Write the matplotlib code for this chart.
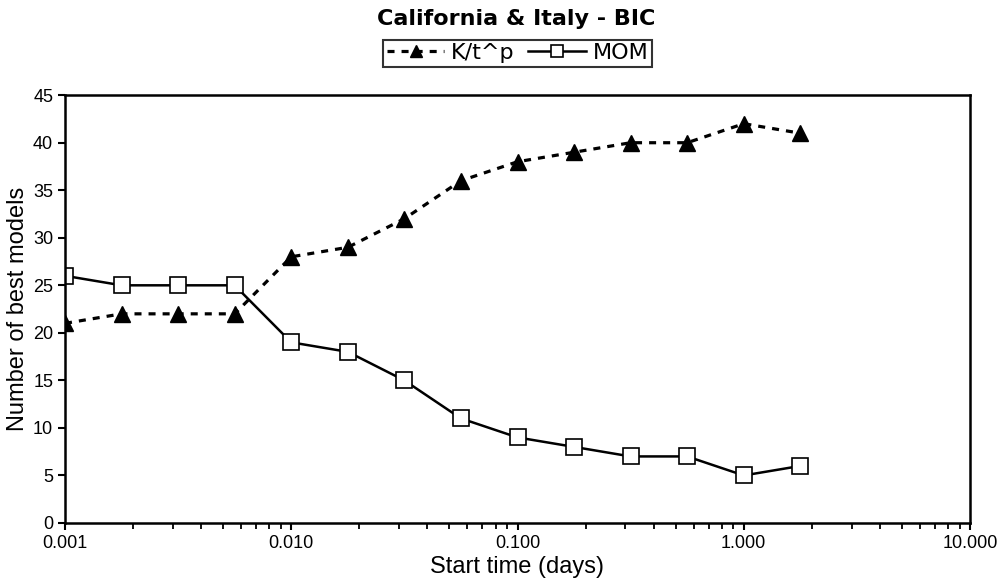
import matplotlib.pyplot as plt
from matplotlib.ticker import FixedLocator, LogLocator, NullFormatter

# data
start_time = [0.001, 0.00178, 0.00316, 0.00562, 0.01, 0.0178, 0.0316, 0.0562,
              0.1, 0.178, 0.316, 0.562, 1.0, 1.78]
k_t_p = [21, 22, 22, 22, 28, 29, 32, 36, 38, 39, 40, 40, 42, 41]
mom = [26, 25, 25, 25, 19, 18, 15, 11, 9, 8, 7, 7, 5, 6]
x_ticks = [0.001, 0.01, 0.1, 1, 10]
x_tick_labels = ["0.001", "0.010", "0.100", "1.000", "10.000"]

fig = plt.figure(figsize=(10, 5.84), dpi=100)
ax = fig.add_axes([0.065, 0.1045, 0.905, 0.7325])

ax.plot(start_time, k_t_p, color="black", linestyle=(0, (2.2, 2.2)), linewidth=2.3,
        marker="^", markersize=11, markerfacecolor="black", label="K/t^p")
ax.plot(start_time, mom, color="black", linestyle="-", linewidth=1.8,
        marker="s", markersize=11, markerfacecolor="white", markeredgewidth=1.2,
        label="MOM")

ax.set_xscale("log")
ax.set_xlim(0.001, 10)
ax.set_ylim(0, 45)
ax.set_yticks(range(0, 46, 5))
ax.xaxis.set_major_locator(FixedLocator(x_ticks))
ax.set_xticklabels(x_tick_labels)
ax.xaxis.set_minor_locator(LogLocator(base=10, subs=range(2, 10)))
ax.xaxis.set_minor_formatter(NullFormatter())

for s in ax.spines.values():
    s.set_linewidth(1.8)
ax.tick_params(axis="both", which="major", direction="out", length=5, width=1.5,
               labelsize=13)
ax.tick_params(axis="x", which="minor", direction="out", length=4, width=1.3)
for lbl in ax.get_xticklabels() + ax.get_yticklabels():
    lbl.set_fontfamily("Liberation Sans")

ax.set_xlabel("Start time (days)", fontsize=17, family="Liberation Sans", labelpad=3)
ax.set_ylabel("Number of best models", fontsize=17, family="Liberation Sans", labelpad=3)

fig.suptitle("California & Italy - BIC", x=0.516, y=0.985, fontsize=16,
             fontweight="bold", family="DejaVu Sans")
leg = ax.legend(loc="center", bbox_to_anchor=(0.5, 1.098), ncol=2, fontsize=16,
                frameon=True, fancybox=False, edgecolor="black",
                handlelength=2.6, handletextpad=0.3, columnspacing=0.6,
                borderpad=0.15, borderaxespad=0, markerscale=0.85)
leg.get_frame().set_linewidth(1.5)

fig.savefig("out.png", dpi=100, facecolor="white")
